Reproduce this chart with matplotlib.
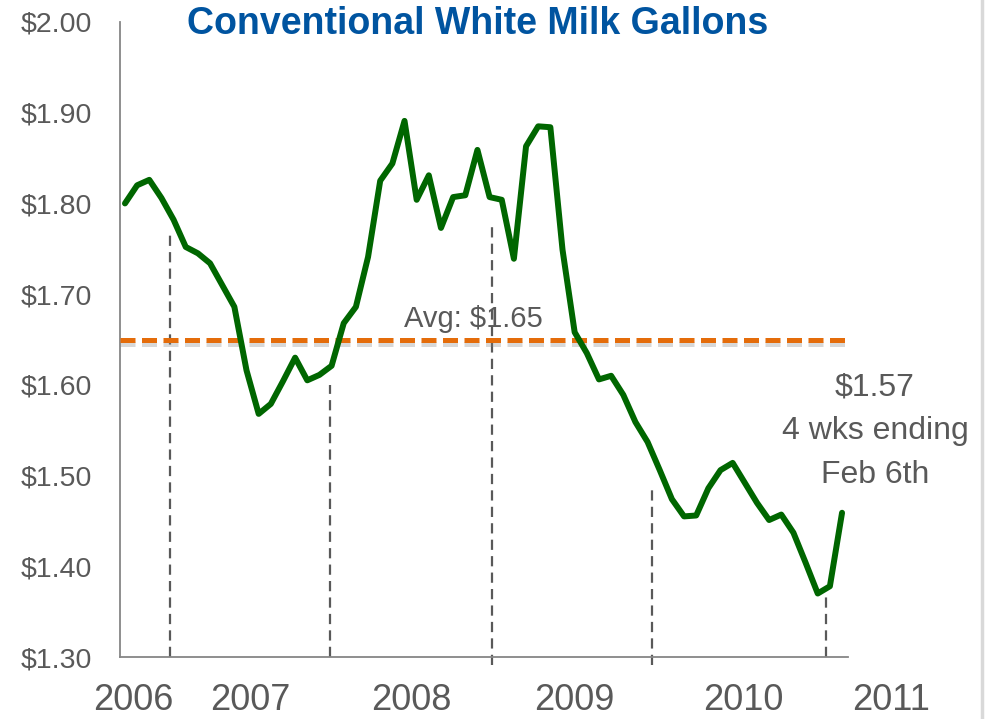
import matplotlib.pyplot as plt
import matplotlib.patheffects as pe
from matplotlib.lines import Line2D

# Monthly average retail price, conventional white milk gallons
prices = [
    1.800, 1.820, 1.826, 1.806, 1.782, 1.752, 1.745, 1.734, 1.710, 1.686,
    1.616, 1.568, 1.579, 1.604, 1.630, 1.605, 1.611, 1.621, 1.668, 1.686,
    1.741, 1.825, 1.844, 1.891, 1.804, 1.831, 1.773, 1.807, 1.809, 1.859,
    1.807, 1.804, 1.739, 1.863, 1.885, 1.884, 1.749, 1.658, 1.635, 1.606,
    1.610, 1.589, 1.559, 1.537, 1.506, 1.474, 1.455, 1.456, 1.486, 1.506,
    1.514, 1.492, 1.470, 1.451, 1.457, 1.437, 1.404, 1.370, 1.378, 1.459,
]
avg_price = 1.65

# year dividers: x position (month index), top of the dashed line, bottom
divider_x = [3.7, 16.87, 30.2, 43.37, 57.7]
divider_top = [1.768, 1.600, 1.777, 1.484, 1.368]
divider_bottom = [1.300, 1.300, 1.291, 1.291, 1.300]

years = ["2006", "2007", "2008", "2009", "2010", "2011"]
year_x = [0.66, 10.3, 23.6, 37.0, 50.9, 63.0]

yticks = [1.30, 1.40, 1.50, 1.60, 1.70, 1.80, 1.90, 2.00]

font = ["Liberation Sans", "DejaVu Sans"]
plt.rcParams["font.family"] = font
grey = "#595959"

fig = plt.figure(figsize=(9.88, 7.19), dpi=100)
ax = fig.add_axes([120 / 988, 62 / 719, 728 / 988, 635 / 719])

months = list(range(len(prices)))
ax.plot(months, prices, color="#006600", lw=4.3,
        solid_joinstyle="round", solid_capstyle="round", zorder=4)

ax.axhline(avg_price, color="#E46C0A", lw=3.6, linestyle=(0, (3.0, 1.3)),
           zorder=3,
           path_effects=[pe.SimpleLineShadow(offset=(0, -3), shadow_color="#7f7f7f", alpha=0.3),
                         pe.Normal()])

for x, top, bot in zip(divider_x, divider_top, divider_bottom):
    ax.plot([x, x], [bot, top], color=grey, lw=1.6,
            linestyle=(0, (4.6, 2.8)), clip_on=False, zorder=2)

ax.text(28.7, 1.664, "Avg: $1.65", ha="center", va="baseline",
        fontsize=21, color=grey, zorder=5)

ax.set_xlim(-0.41, 59.49)
ax.set_ylim(1.30, 2.00)
ax.set_yticks(yticks)
ax.set_yticklabels(["${:.2f}".format(v) for v in yticks], fontsize=20.5, color=grey)
ax.set_xticks([])
ax.tick_params(axis="y", length=0, pad=20)

for side in ["top", "right"]:
    ax.spines[side].set_visible(False)
for side in ["left", "bottom"]:
    ax.spines[side].set_color("#868686")
    ax.spines[side].set_linewidth(1.3)

for label, x in zip(years, year_x):
    ax.text(x, -0.0835, label, transform=ax.get_xaxis_transform(),
            ha="center", va="baseline", fontsize=26, color=grey, clip_on=False)

fig.text(478 / 988, 1 - 24 / 719, "Conventional White Milk Gallons",
         ha="center", va="center", fontsize=27, fontweight="bold", color="#0054A0")

fig.text(875 / 988, 1 - 372 / 719, "$1.57\n4 wks ending\nFeb 6th",
         ha="center", va="top", fontsize=23, color=grey, linespacing=1.6)

# slide frame edge on the right
fig.add_artist(Line2D([982 / 988, 982 / 988], [0, 1], color="#d9d9d9", lw=2.5))

fig.savefig("out.png", dpi=100)
